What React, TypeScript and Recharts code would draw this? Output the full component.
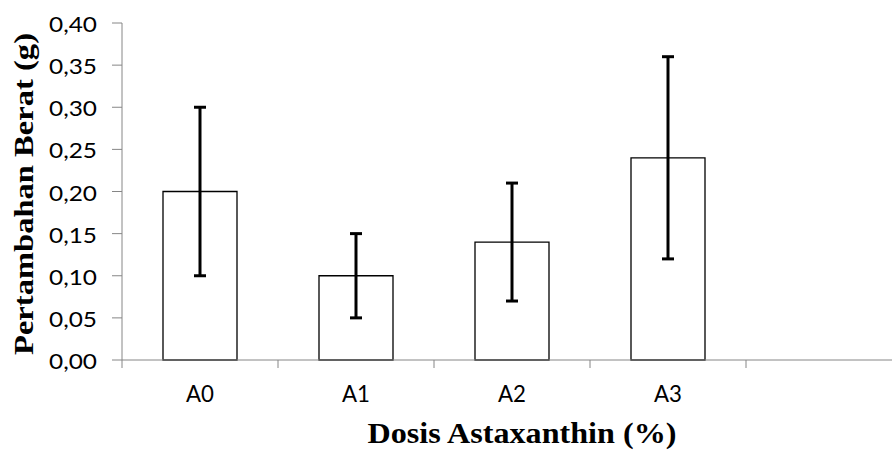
import React from "react";
import { BarChart, Bar, XAxis, YAxis, ErrorBar, Label } from "recharts";

const categories = ["A0", "A1", "A2", "A3", ""];
const means = [0.2, 0.1, 0.14, 0.24, null];
const errors = [0.1, 0.05, 0.07, 0.12, null];
const yTicks = [0, 0.05, 0.1, 0.15, 0.2, 0.25, 0.3, 0.35, 0.4];

const data = categories.map((name, i) => ({ name, value: means[i], err: errors[i] }));

const AXIS = "#868686";
const BAND = 156;

const XTick = (props: any) => {
    const { x, y, payload } = props;
    return (
        <g>
            <line x1={x - BAND / 2} x2={x - BAND / 2} y1={y} y2={y + 8} stroke={AXIS} />
            {payload.value && (
                <text x={x} y={y + 42} textAnchor="middle" fontFamily="Lato" fontSize={23}
                    fill="#000" textLength={28} lengthAdjust="spacingAndGlyphs">
                    {payload.value}
                </text>
            )}
        </g>
    );
};

const YTick = (props: any) => {
    const { x, y, payload } = props;
    const label = Number(payload.value).toFixed(2).replace(".", ",");
    return (
        <g>
            <line x1={x - 10} x2={x} y1={y} y2={y} stroke={AXIS} />
            <text x={x - 25} y={y + 9} textAnchor="end" fontFamily="Lato" fontSize={21}
                fill="#000" textLength={48} lengthAdjust="spacingAndGlyphs">
                {label}
            </text>
        </g>
    );
};

const App = () => {
    return (
        <div style={{ position: "absolute", left: 0, top: 0, width: 892, height: 450, overflow: "hidden", background: "#fff" }}>
            <BarChart width={902} height={450} data={data} margin={{ top: 23, right: 0, left: 0, bottom: 0 }}>
                <XAxis dataKey="name" height={90} tick={<XTick />} tickLine={false} tickSize={0} tickMargin={0}
                    axisLine={{ stroke: AXIS }} interval={0}>
                    <Label content={(p: any) => {
                        const vb = p.viewBox;
                        return (
                            <text x={vb.x + vb.width / 2 + 10} y={vb.y + 83} textAnchor="middle"
                                fontFamily="Liberation Serif" fontWeight="bold" fontSize={29} fill="#000"
                                textLength={309} lengthAdjust="spacingAndGlyphs">
                                Dosis Astaxanthin (%)
                            </text>
                        );
                    }} />
                </XAxis>
                <YAxis width={122} domain={[0, 0.4]} ticks={yTicks} tick={<YTick />} tickLine={false}
                    tickSize={0} tickMargin={0} axisLine={{ stroke: AXIS }} interval={0}>
                    <Label content={() => (
                        <text x={0} y={0} transform="translate(33 194) rotate(-90)" textAnchor="middle"
                            fontFamily="Liberation Serif" fontWeight="bold" fontSize={28} fill="#000"
                            textLength={322} lengthAdjust="spacingAndGlyphs">
                            Pertambahan Berat (g)
                        </text>
                    )} />
                </YAxis>
                <Bar dataKey="value" fill="#fff" stroke="#000" strokeWidth={1.3} barSize={74} isAnimationActive={false}>
                    <ErrorBar dataKey="err" width={6} strokeWidth={3} stroke="#000" direction="y" />
                </Bar>
            </BarChart>
        </div>
    );
};

export default App;
